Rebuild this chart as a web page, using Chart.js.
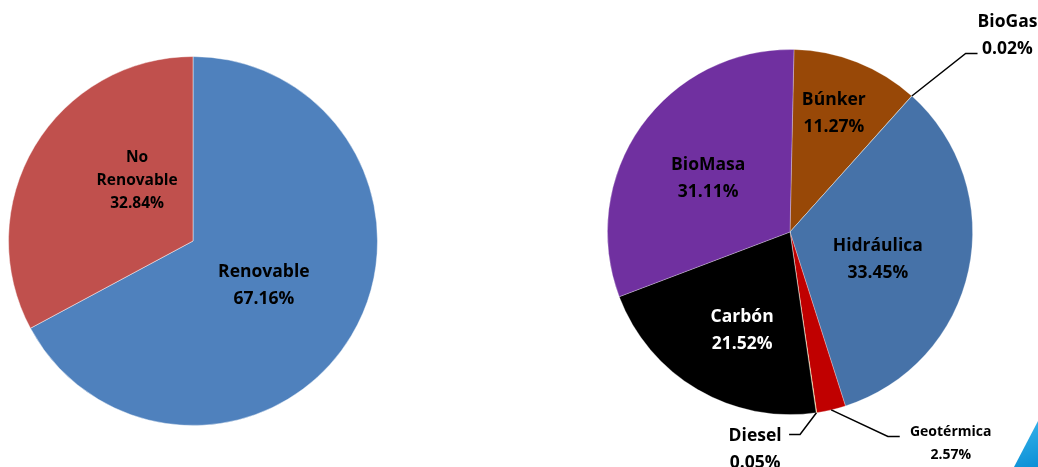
<!DOCTYPE html>
<html>
<head>
<meta charset="utf-8">
<script src="https://cdn.jsdelivr.net/npm/chart.js@4.4.1/dist/chart.umd.min.js"></script>
<style>
  html, body { margin: 0; padding: 0; background: #fff; }
  body { width: 1038px; height: 467px; position: relative; overflow: hidden; }
  .box { position: absolute; left: 0; top: 0; width: 1038px; height: 467px; }
  .corner {
    position: absolute; left: 1014px; top: 421px; width: 24px; height: 46px;
    background: linear-gradient(160deg, #3bb5ea, #0a8fd6);
    clip-path: polygon(100% 0, 100% 100%, 0 100%);
  }
</style>
</head>
<body>
<div class="box"><canvas id="chartA" width="1038" height="467"></canvas></div>
<div class="box"><canvas id="chartB" width="1038" height="467"></canvas></div>
<div class="corner"></div>
<script>
// left pie: renewable vs non renewable
const categoriesA = ['Renovable', 'No Renovable'];
const valuesA = [67.16, 32.84];
const labelTextA = [['Renovable', '67.16%'], ['No', 'Renovable', '32.84%']];

// right pie: by source
const categoriesB = ['Búnker', 'BioGas', 'Hidráulica', 'Geotérmica', 'Diesel', 'Carbón', 'BioMasa'];
const valuesB = [11.27, 0.02, 33.45, 2.57, 0.05, 21.52, 31.11];
const labelTextB = [
  ['Búnker', '11.27%'], ['BioGas', '0.02%'], ['Hidráulica', '33.45%'],
  ['Geotérmica', '2.57%'], ['Diesel', '0.05%'], ['Carbón', '21.52%'], ['BioMasa', '31.11%']
];

const FONT = '"Open Sans", "DejaVu Sans", sans-serif';

// draws the slice labels; pos is in units of the pie radius from its centre
const sliceLabels = {
  id: 'sliceLabels',
  afterDatasetsDraw(chart, args, opts) {
    const ctx = chart.ctx;
    const arcs = chart.getDatasetMeta(0).data;
    arcs.forEach((arc, i) => {
      const cfg = opts.items[i];
      if (!cfg) return;
      const r = arc.outerRadius;
      const cx = arc.x, cy = arc.y;
      ctx.save();
      if (cfg.line) {
        const mid = (arc.startAngle + arc.endAngle) / 2;
        ctx.beginPath();
        ctx.moveTo(cx + Math.cos(mid) * r, cy + Math.sin(mid) * r);
        cfg.line.forEach(p => ctx.lineTo(cx + p[0] * r, cy + p[1] * r));
        ctx.strokeStyle = '#000';
        ctx.lineWidth = 1.5;
        ctx.stroke();
      }
      const lines = opts.text[i];
      const size = cfg.size || 17.5;
      const lh = cfg.lh || 27;
      ctx.font = 'bold ' + size + 'px ' + FONT;
      ctx.fillStyle = cfg.color || '#000';
      ctx.textAlign = 'center';
      ctx.textBaseline = 'middle';
      const x = cx + cfg.pos[0] * r;
      const y0 = cy + cfg.pos[1] * r - (lines.length - 1) * lh / 2;
      lines.forEach((t, k) => ctx.fillText(t, x, y0 + k * lh));
      ctx.restore();
    });
  }
};

new Chart(document.getElementById('chartA'), {
  type: 'pie',
  data: {
    labels: categoriesA,
    datasets: [{
      data: valuesA,
      backgroundColor: ['#4f81bd', '#c0504d'],
      borderColor: 'rgba(255,255,255,0.45)',
      borderWidth: 1
    }]
  },
  options: {
    responsive: false,
    animation: false,
    layout: { padding: { left: 8, right: 660, top: 56, bottom: 41 } },
    plugins: {
      legend: { display: false },
      tooltip: { enabled: false },
      sliceLabels: {
        text: labelTextA,
        items: [
          { pos: [0.384, 0.241] },
          { pos: [-0.303, -0.330], size: 15.5, lh: 23 }
        ]
      }
    }
  },
  plugins: [sliceLabels]
});

new Chart(document.getElementById('chartB'), {
  type: 'pie',
  data: {
    labels: categoriesB,
    datasets: [{
      data: valuesB,
      backgroundColor: ['#984807', '#77933c', '#4672a8', '#c00000', '#f5b800', '#000000', '#7030a0'],
      borderColor: 'rgba(255,255,255,0.35)',
      borderWidth: 0.8
    }]
  },
  options: {
    responsive: false,
    animation: false,
    rotation: 1.25,
    layout: { padding: { left: 607, right: 65, top: 49, bottom: 52 } },
    plugins: {
      legend: { display: false },
      tooltip: { enabled: false },
      sliceLabels: {
        text: labelTextB,
        items: [
          { pos: [0.240, -0.650] },
          { pos: [1.191, -1.074], line: [[0.962, -0.978], [1.027, -0.978]] },
          { pos: [0.481, 0.148] },
          { pos: [0.880, 1.161], size: 14, lh: 23, line: [[0.536, 1.120], [0.601, 1.120]] },
          { pos: [-0.191, 1.189], line: [[0.055, 1.109], [-0.005, 1.109]] },
          { pos: [-0.262, 0.541], color: '#fff' },
          { pos: [-0.448, -0.295] }
        ]
      }
    }
  },
  plugins: [sliceLabels]
});
</script>
</body>
</html>
